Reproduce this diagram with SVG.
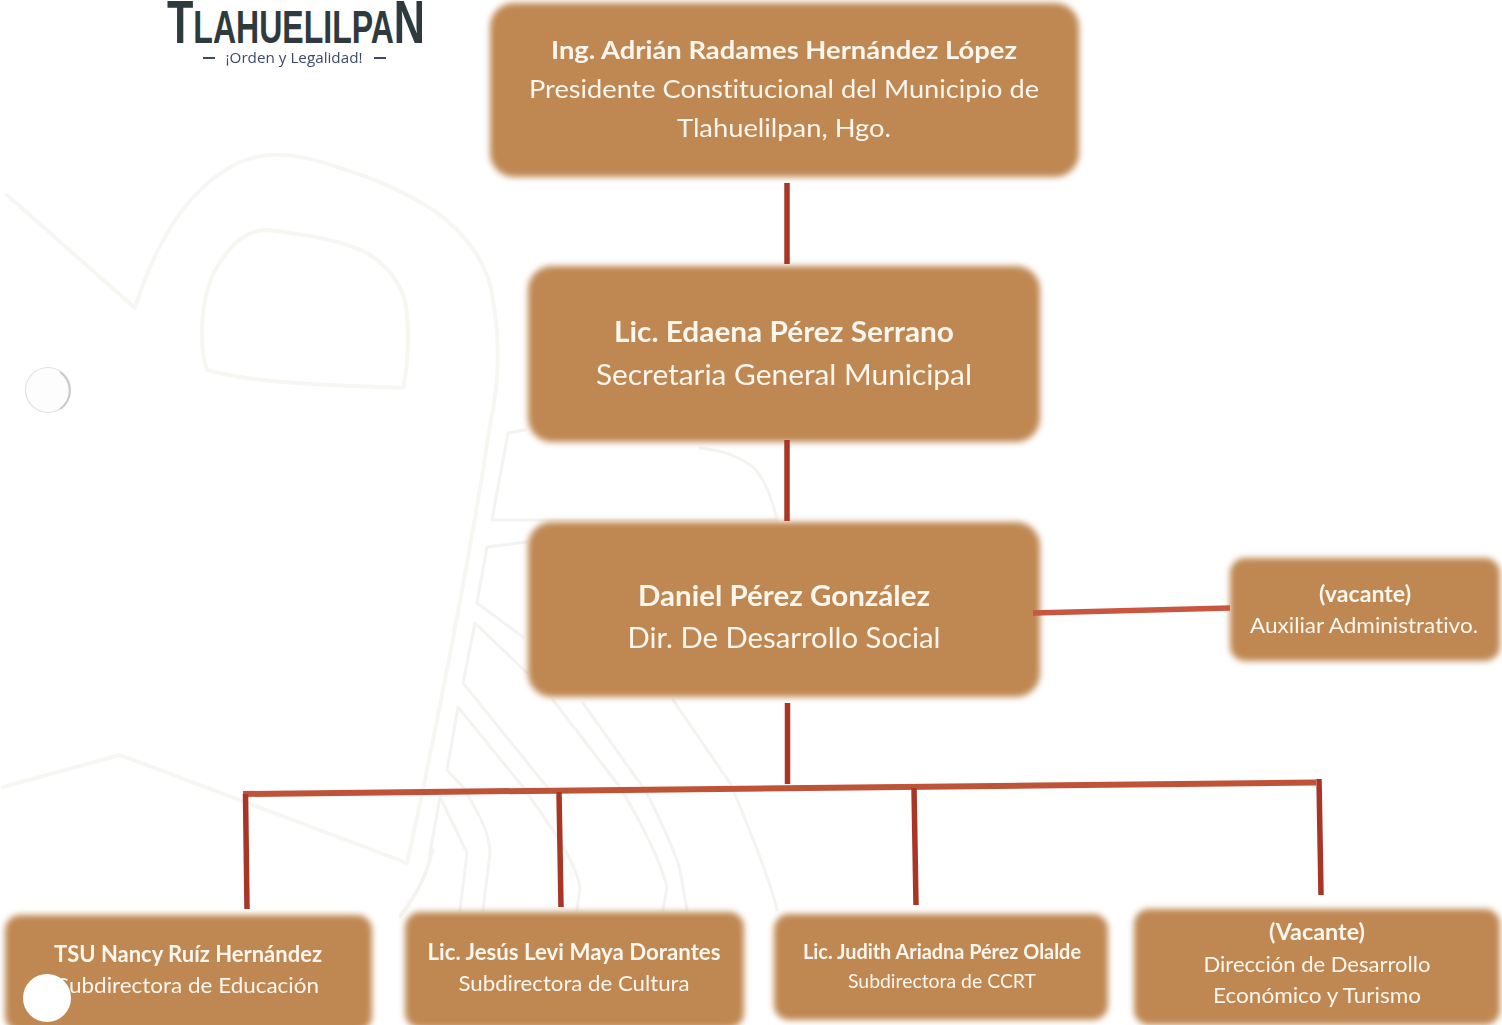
<svg xmlns="http://www.w3.org/2000/svg" width="1502" height="1025" viewBox="0 0 1502 1025">
<defs>
<filter id="soft" x="-5%" y="-10%" width="110%" height="120%"><feGaussianBlur stdDeviation="3.4"/></filter>
<filter id="tb" x="-5%" y="-20%" width="110%" height="140%"><feGaussianBlur stdDeviation="0.35"/></filter>
<filter id="lb" filterUnits="userSpaceOnUse" x="0" y="0" width="1502" height="1025"><feGaussianBlur stdDeviation="0.6"/></filter>
</defs>
<style>
.box{fill:#bf8751;filter:url(#soft)}
text{font-family:Lato,"Open Sans",sans-serif;fill:#fbf6ee;text-anchor:middle;filter:url(#tb);font-variant-ligatures:none}
.b{font-weight:700}
.wm{fill:none;stroke:#f7f6f2;stroke-width:4;stroke-linecap:round;stroke-linejoin:round}
.wm2{fill:none;stroke:#f4f3ef;stroke-width:3;stroke-linecap:round;stroke-linejoin:round}
.v{fill:none;stroke:#a93528;stroke-width:5.5;filter:url(#lb)}
.h{fill:none;stroke:#bf5238;stroke-width:6;filter:url(#lb)}
</style>
<rect width="1502" height="1025" fill="#fff"/>
<g id="watermark">
<path class="wm" d="M7 195L135 308C150 260 180 190 240 162C262 153 290 150 340 168C380 180 410 195 433 210C470 235 490 270 493 300C500 340 500 380 490 425C470 560 430 760 407 863L120 755L3 787"/>
<path class="wm" d="M207 370C200 350 198 300 217 267C235 238 250 230 267 230C310 235 340 240 367 253C395 270 407 295 407 317C410 345 406 375 403 388C340 385 260 385 207 370Z"/>
<path class="wm2" d="M525 430L508 433L492 520L777 520C770 490 760 470 747 463C730 452 715 450 700 448"/>
<path class="wm2" d="M527 542L487 547L477 603L523 637"/>
<path class="wm2" d="M527 673L475 623L463 683L547 787"/>
<path class="wm2" d="M523 787L458 707L447 770L463 787C480 815 490 835 490 853L483 910"/>
<path class="wm2" d="M523 787C550 825 575 860 580 887L577 910"/>
<path class="wm2" d="M400 915C420 890 430 870 430 853L440 797L467 853L460 910"/>
<path class="wm2" d="M553 700L620 787C645 830 660 860 667 887L663 910"/>
<path class="wm2" d="M583 703L647 793C660 820 675 850 680 870L687 910"/>
<path class="wm2" d="M673 700L730 783C750 830 770 880 777 910"/>
<path class="wm2" d="M433 850C425 880 410 905 400 917"/>
</g>
<g id="logo">
<text x="296" y="43" font-size="46" textLength="258" lengthAdjust="spacingAndGlyphs" style="font-family:'Liberation Sans',sans-serif;fill:#2e3a3e;filter:none;font-weight:700"><tspan font-size="62">T</tspan>LAHUELILPA<tspan font-size="62">N</tspan></text>
<text x="294" y="63" font-size="14" textLength="137" lengthAdjust="spacingAndGlyphs" style="font-family:'Open Sans',sans-serif;fill:#3d4a6b">¡Orden y Legalidad!</text>
<path d="M203 58H215M374 58H386" stroke="#3d4a63" stroke-width="2"/>
</g>
<g id="n1"><rect class="box" x="490" y="3" width="589" height="174" rx="24"/>
<text class="b" x="784" y="59" font-size="25.5" textLength="466" lengthAdjust="spacingAndGlyphs">Ing. Adrián Radames Hernández López</text>
<text x="784" y="98" font-size="25.5" textLength="510" lengthAdjust="spacingAndGlyphs">Presidente Constitucional del Municipio de</text>
<text x="784" y="137" font-size="25.5" textLength="214" lengthAdjust="spacingAndGlyphs">Tlahuelilpan, Hgo.</text></g>
<g id="n2"><rect class="box" x="528" y="266" width="512" height="176" rx="24"/>
<text class="b" x="784" y="342" font-size="28" textLength="340" lengthAdjust="spacingAndGlyphs">Lic. Edaena Pérez Serrano</text>
<text x="784" y="385" font-size="28" textLength="376" lengthAdjust="spacingAndGlyphs">Secretaria General Municipal</text></g>
<g id="n3"><rect class="box" x="528" y="522" width="512" height="175" rx="24"/>
<text class="b" x="784" y="606" font-size="28" textLength="292" lengthAdjust="spacingAndGlyphs">Daniel Pérez González</text>
<text x="784" y="648" font-size="28" textLength="313" lengthAdjust="spacingAndGlyphs">Dir. De Desarrollo Social</text></g>
<g id="n4"><rect class="box" x="1230" y="558" width="270" height="103" rx="15"/>
<text class="b" x="1365" y="602" font-size="22" textLength="92" lengthAdjust="spacingAndGlyphs">(vacante)</text>
<text x="1364" y="633" font-size="22" textLength="228" lengthAdjust="spacingAndGlyphs">Auxiliar Administrativo.</text></g>
<g id="n5"><rect class="box" x="5" y="915" width="367" height="116" rx="15"/>
<text class="b" x="188" y="962" font-size="22" textLength="268" lengthAdjust="spacingAndGlyphs">TSU Nancy Ruíz Hernández</text>
<text x="188" y="993" font-size="22" textLength="262" lengthAdjust="spacingAndGlyphs">Subdirectora de Educación</text></g>
<g id="n6"><rect class="box" x="405" y="912" width="339" height="116" rx="15"/>
<text class="b" x="574" y="960" font-size="22" textLength="293" lengthAdjust="spacingAndGlyphs">Lic. Jesús Levi Maya Dorantes</text>
<text x="574" y="991" font-size="22" textLength="231" lengthAdjust="spacingAndGlyphs">Subdirectora de Cultura</text></g>
<g id="n7"><rect class="box" x="774" y="914" width="334" height="106" rx="15"/>
<text class="b" x="942" y="959" font-size="20" textLength="278" lengthAdjust="spacingAndGlyphs">Lic. Judith Ariadna Pérez Olalde</text>
<text x="942" y="988" font-size="20" textLength="188" lengthAdjust="spacingAndGlyphs">Subdirectora de CCRT</text></g>
<g id="n8"><rect class="box" x="1134" y="909" width="366" height="116" rx="15"/>
<text class="b" x="1317" y="940" font-size="22" textLength="96" lengthAdjust="spacingAndGlyphs">(Vacante)</text>
<text x="1317" y="972" font-size="22" textLength="227" lengthAdjust="spacingAndGlyphs">Dirección de Desarrollo</text>
<text x="1317" y="1003" font-size="22" textLength="208" lengthAdjust="spacingAndGlyphs">Económico y Turismo</text></g>
<g id="connectors">
<path class="v" d="M787 183V264"/>
<path class="v" d="M787 440V521"/>
<path class="h" style="stroke:#c8573f;stroke-width:5.5" d="M1033 613L1230 608"/>
<path class="v" d="M787.5 703V784"/>
<path class="h" d="M243 794L1316 782.5"/>
<path class="v" d="M245.5 794L247 909"/>
<path class="v" d="M559 792L561 907"/>
<path class="v" d="M914 788L916 905"/>
<path class="v" d="M1319 779L1321 895"/>
</g>
<g id="holes">
<circle cx="48" cy="390" r="22.5" fill="#fdfdfd" stroke="#dfe2e4" stroke-width="1.2"/>
<path d="M60 372A22.5 22.5 0 0 1 60 409" fill="none" stroke="#c6cacd" stroke-width="2"/>
<circle cx="47" cy="998" r="24" fill="#fff" filter="url(#lb)"/>
</g>
</svg>
